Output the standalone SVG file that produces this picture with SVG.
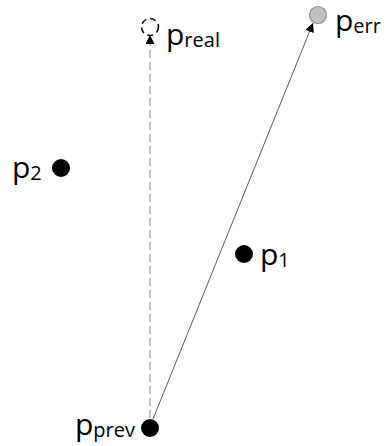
<svg xmlns="http://www.w3.org/2000/svg" width="387" height="446" viewBox="0 0 387 446">
<style>
.lbl{font-family:"Open Sans","Liberation Sans",sans-serif;font-size:30px;fill:#000}
.sub{font-size:20px}
.dot{fill:#000}
</style>
<defs>
<marker id="ah" viewBox="0 0 10 10" refX="10" refY="5" markerWidth="11" markerHeight="9" markerUnits="userSpaceOnUse" orient="auto">
<path d="M0,0 L10,5 L0,10 z" fill="#000"/>
</marker>
</defs>
<g id="connectors">
<line x1="150" y1="418" x2="150" y2="35" stroke="#7f7f7f" stroke-width="1" stroke-dasharray="8,4" marker-end="url(#ah)"/>
<line x1="153" y1="419" x2="313" y2="23" stroke="#595959" stroke-width="1" marker-end="url(#ah)"/>
</g>
<g id="p_real">
<circle cx="150" cy="27" r="8.5" fill="none" stroke="#000" stroke-width="1.5" stroke-dasharray="6,4"/>
<text class="lbl" x="166" y="45">p<tspan class="sub" dy="2">real</tspan></text>
</g>
<g id="p_err">
<circle cx="318" cy="15" r="8.5" fill="#c0c0c0" stroke="#8c8c8c" stroke-width="1.2"/>
<text class="lbl" x="335" y="31">p<tspan class="sub" dy="2">err</tspan></text>
</g>
<g id="p2">
<circle class="dot" cx="61" cy="168" r="9"/>
<text class="lbl" x="12" y="178">p<tspan class="sub" dy="2">2</tspan></text>
</g>
<g id="p1">
<circle class="dot" cx="244" cy="254" r="9"/>
<text class="lbl" x="260" y="265">p<tspan class="sub" dy="2">1</tspan></text>
</g>
<g id="p_prev">
<circle class="dot" cx="150" cy="428" r="9"/>
<text class="lbl" x="75" y="435">p<tspan class="sub" dy="2">prev</tspan></text>
</g>
</svg>
